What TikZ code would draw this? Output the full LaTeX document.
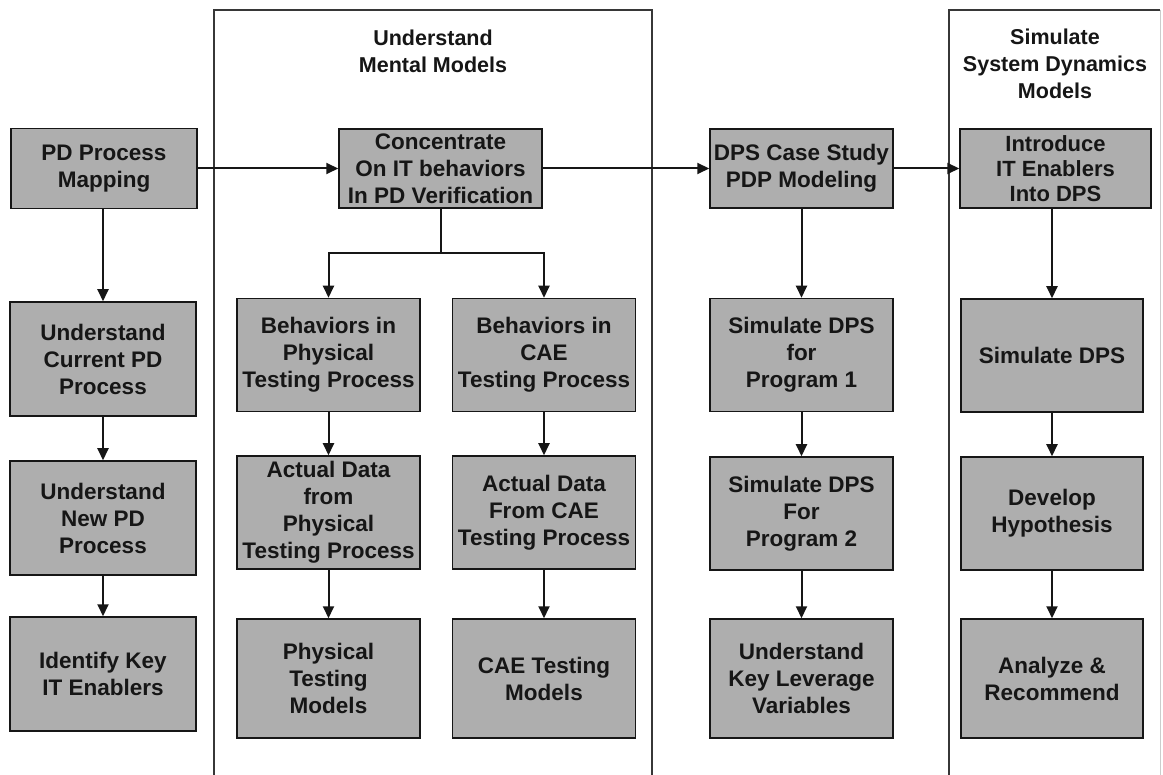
\documentclass[tikz,border=0pt]{standalone}
\usepackage{fontspec}
\setmainfont{Liberation Sans}
\usetikzlibrary{arrows.meta}
\definecolor{boxfill}{RGB}{174,174,174}
\definecolor{ink}{RGB}{22,22,22}
\definecolor{framegray}{RGB}{55,55,55}
\tikzset{
  stepbox/.style={draw=ink, line width=1.5pt, fill=boxfill, inner sep=0pt,
    align=center, text=ink, font=\fontsize{22.5}{27}\selectfont\bfseries},
  titletext/.style={align=center, text=ink, inner sep=0pt,
    font=\fontsize{21.5}{27}\selectfont\bfseries},
  arr/.style={draw=ink, line width=2pt, -{Triangle[length=12pt,width=11pt]}},
  link/.style={draw=ink, line width=2pt},
  framebox/.style={draw=framegray, line width=1.6pt},
  faintframe/.style={draw=gray!40, line width=1pt},
}
\begin{document}
\begin{tikzpicture}[x=1pt,y=-1pt]
\useasboundingbox (0,0) rectangle (1163,775);

% section frames
\draw[framebox] (214,775) -- (214,10) -- (652,10) -- (652,775);
\draw[framebox] (949,775) -- (949,10) -- (1160,10);
\draw[faintframe] (1160,10) -- (1160,775);

\node[titletext] (t1) at (433,51) {Understand\\Mental Models};
\node[titletext] (t2) at (1055,64) {Simulate\\System Dynamics\\Models};

% column 1
\node[stepbox, minimum width=186pt, minimum height=80pt] (pdm) at (104,168.5) {PD Process\\Mapping};
\node[stepbox, minimum width=186pt, minimum height=114pt] (ucp) at (103,359) {Understand\\Current PD\\Process};
\node[stepbox, minimum width=186pt, minimum height=114pt] (unp) at (103,518) {Understand\\New PD\\Process};
\node[stepbox, minimum width=186pt, minimum height=114pt] (ike) at (103,674) {Identify Key\\IT Enablers};

% mental models section
\node[stepbox, minimum width=203pt, minimum height=79pt] (con) at (440.5,168.5) {Concentrate\\On IT behaviors\\In PD Verification};
\node[stepbox, minimum width=183pt, minimum height=113pt] (bph) at (328.5,355) {Behaviors in\\Physical\\Testing Process};
\node[stepbox, minimum width=183pt, minimum height=113pt] (bca) at (544,355) {Behaviors in\\CAE\\Testing Process};
\node[stepbox, minimum width=183pt, minimum height=113pt] (adp) at (328.5,512.5) {Actual Data\\from\\Physical\\Testing Process};
\node[stepbox, minimum width=183pt, minimum height=113pt] (adc) at (544,512.5) {Actual Data\\From CAE\\Testing Process};
\node[stepbox, minimum width=183pt, minimum height=119pt] (ptm) at (328.5,678.5) {Physical\\Testing\\Models};
\node[stepbox, minimum width=183pt, minimum height=119pt] (ctm) at (544,678.5) {CAE Testing\\Models};

% case study column
\node[stepbox, minimum width=183pt, minimum height=79pt] (dps) at (801.5,168.5) {DPS Case Study\\PDP Modeling};
\node[stepbox, minimum width=183pt, minimum height=113pt] (sd1) at (801.5,355) {Simulate DPS\\for\\Program 1};
\node[stepbox, minimum width=183pt, minimum height=113pt] (sd2) at (801.5,513.5) {Simulate DPS\\For\\Program 2};
\node[stepbox, minimum width=183pt, minimum height=119pt] (ukl) at (801.5,678.5) {Understand\\Key Leverage\\Variables};

% system dynamics section
\node[stepbox, minimum width=191pt, minimum height=79pt,
      font=\fontsize{22}{25}\selectfont\bfseries] (ite) at (1055.5,168.5) {Introduce\\IT Enablers\\Into DPS};
\node[stepbox, minimum width=182pt, minimum height=113pt] (sdp) at (1052,355.5) {Simulate DPS};
\node[stepbox, minimum width=182pt, minimum height=113pt] (dh) at (1052,513.5) {Develop\\Hypothesis};
\node[stepbox, minimum width=182pt, minimum height=119pt] (ar) at (1052,678.5) {Analyze \&\\Recommend};

% main flow
\draw[arr] (pdm.east) -- (con.west);
\draw[arr] (con.east) -- (dps.west);
\draw[arr] (dps.east) -- (ite.west);

\draw[arr] (pdm.south -| ucp.north) -- (ucp.north);
\draw[arr] (ucp) -- (unp);
\draw[arr] (unp) -- (ike);

\coordinate (split) at (441,253);
\draw[link] (con.south -| split) -- (split);
\draw[arr] (split) -| (bph.north);
\draw[arr] (split) -| (bca.north);
\draw[arr] (bph) -- (adp);
\draw[arr] (adp) -- (ptm);
\draw[arr] (bca) -- (adc);
\draw[arr] (adc) -- (ctm);

\draw[arr] (dps) -- (sd1);
\draw[arr] (sd1) -- (sd2);
\draw[arr] (sd2) -- (ukl);

\draw[arr] (ite.south -| sdp.north) -- (sdp.north);
\draw[arr] (sdp) -- (dh);
\draw[arr] (dh) -- (ar);
\end{tikzpicture}
\end{document}
